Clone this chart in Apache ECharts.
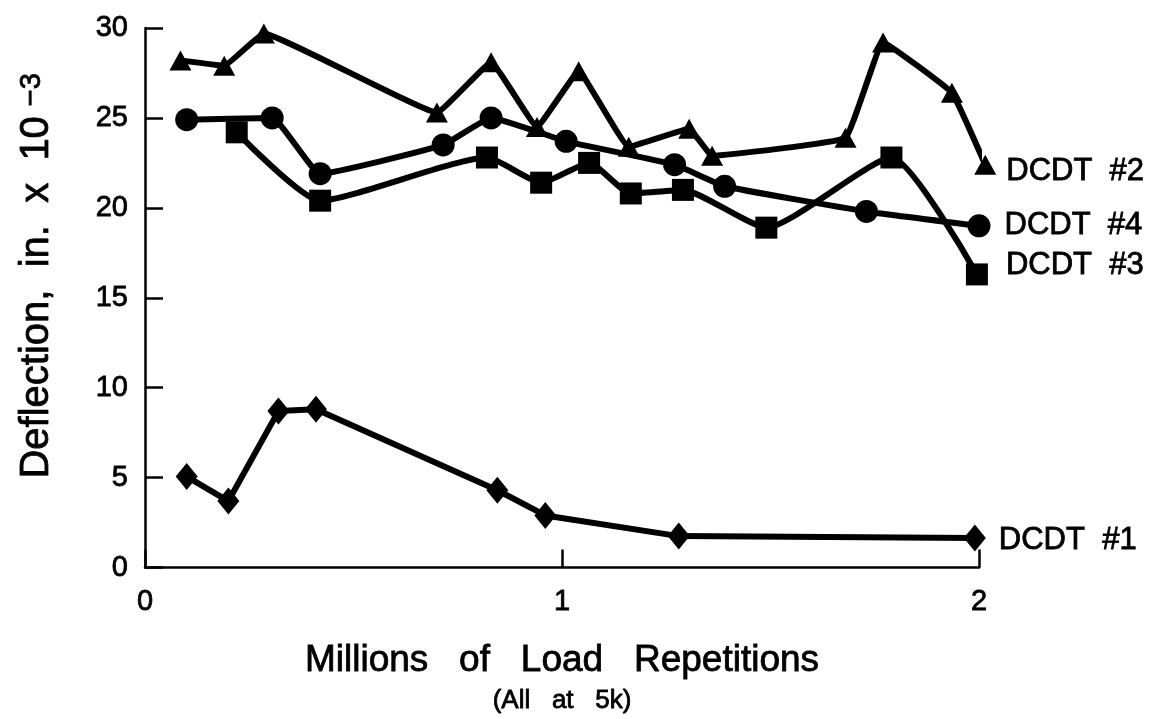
<!DOCTYPE html>
<html><head><meta charset="utf-8">
<script src="https://cdn.jsdelivr.net/npm/echarts@6/dist/echarts.min.js"></script>
<style>html,body{margin:0;padding:0;background:#fff}#c{width:1153px;height:719px}</style>
</head><body><div id="c"></div>
<script>
// ---- data (x: millions of load repetitions, y: deflection in. x 10^-3) ----
const dcdt2 = [[0.085,28.2],[0.19,27.9],[0.285,29.7],[0.70,25.3],[0.83,28.1],[0.94,24.5],[1.04,27.6],[1.16,23.4],[1.305,24.4],[1.36,22.9],[1.68,23.9],[1.77,29.2],[1.935,26.4],[2.015,22.4]];
const dcdt4 = [[0.10,24.9],[0.305,25.0],[0.42,21.9],[0.715,23.5],[0.83,25.0],[1.01,23.7],[1.27,22.4],[1.39,21.2],[1.73,19.8],[2.0,19.0]];
const dcdt3 = [[0.22,24.2],[0.42,20.4],[0.82,22.8],[0.95,21.4],[1.065,22.5],[1.165,20.8],[1.29,21.0],[1.49,18.9],[1.79,22.8],[1.995,16.3]];
const dcdt1 = [[0.10,5.06],[0.20,3.7],[0.32,8.7],[0.41,8.8],[0.845,4.3],[0.96,2.9],[1.28,1.75],[1.99,1.65]];
const seriesNames = ['DCDT  #2','DCDT  #4','DCDT  #3','DCDT  #1'];
const xTickValues = [0,1,2];
const yTickValues = [0,5,10,15,20,25,30];

const FONT = '"Liberation Sans", Arial, Helvetica, sans-serif';
const BOLDISH = {textBorderColor: '#000', textBorderWidth: 0.8};

function mk(name, data, symbol, size, dist, dy, smooth) {
  const last = data.length - 1;
  return {
    name: name, type: 'line', clip: false, smooth: smooth,
    symbol: symbol, symbolSize: size,
    lineStyle: {color: '#000', width: 6},
    itemStyle: {color: '#000'},
    label: Object.assign({show: false, position: 'right', distance: dist, offset: [0, dy],
      formatter: name, color: '#000', fontSize: 31, fontFamily: FONT}, BOLDISH),
    data: data.map((p, i) => i === last ? {value: p, label: {show: true}} : p)
  };
}

const chart = echarts.init(document.getElementById('c'), null, {renderer: 'canvas'});
chart.setOption({
  backgroundColor: '#fff',
  animation: false,
  grid: {left: 145, right: 174, top: 28, bottom: 151, containLabel: false},
  xAxis: {
    type: 'value', min: xTickValues[0], max: xTickValues[xTickValues.length-1], interval: 1,
    axisLine: {lineStyle: {color: '#000', width: 2.5}},
    axisTick: {inside: true, length: 18, lineStyle: {color: '#000', width: 2.5}},
    axisLabel: Object.assign({color: '#000', fontSize: 29, fontFamily: FONT, margin: 20}, BOLDISH),
    splitLine: {show: false},
    name: '{a|Millions   of   Load   Repetitions}\n{b|(All   at   5k)}',
    nameLocation: 'middle', nameGap: 70,
    nameTextStyle: {
      rich: {
        a: Object.assign({fontSize: 37, fontFamily: FONT, color: '#000', lineHeight: 46}, BOLDISH),
        b: Object.assign({fontSize: 26, fontFamily: FONT, color: '#000', lineHeight: 34}, BOLDISH)
      }
    }
  },
  yAxis: {
    type: 'value', min: yTickValues[0], max: yTickValues[yTickValues.length-1], interval: 5,
    axisLine: {lineStyle: {color: '#000', width: 2.5}},
    axisTick: {inside: true, length: 18, lineStyle: {color: '#000', width: 2.5}},
    axisLabel: Object.assign({color: '#000', fontSize: 29, fontFamily: FONT, margin: 17}, BOLDISH),
    splitLine: {show: false},
    name: '{a|Deflection,  in.  x  10}{s|\u22123}',
    nameLocation: 'middle', nameGap: 88, nameRotate: 90,
    nameTextStyle: {
      padding: [0, 0, 0, 44],
      rich: {
        a: Object.assign({fontSize: 40, fontFamily: FONT, color: '#000'}, BOLDISH),
        s: Object.assign({fontSize: 29, fontFamily: FONT, color: '#000', verticalAlign: 'top', padding: [0, 0, 0, 10]}, BOLDISH)
      }
    }
  },
  series: [
    mk(seriesNames[0], dcdt2, 'triangle', [22, 20], 10, 7, 0.08),
    mk(seriesNames[1], dcdt4, 'circle', 23, 14, 0, 0.12),
    mk(seriesNames[2], dcdt3, 'rect', 22, 18, -9, 0.18),
    mk(seriesNames[3], dcdt1, 'diamond', [22, 27], 13, 3, 0)
  ]
});
</script></body></html>
